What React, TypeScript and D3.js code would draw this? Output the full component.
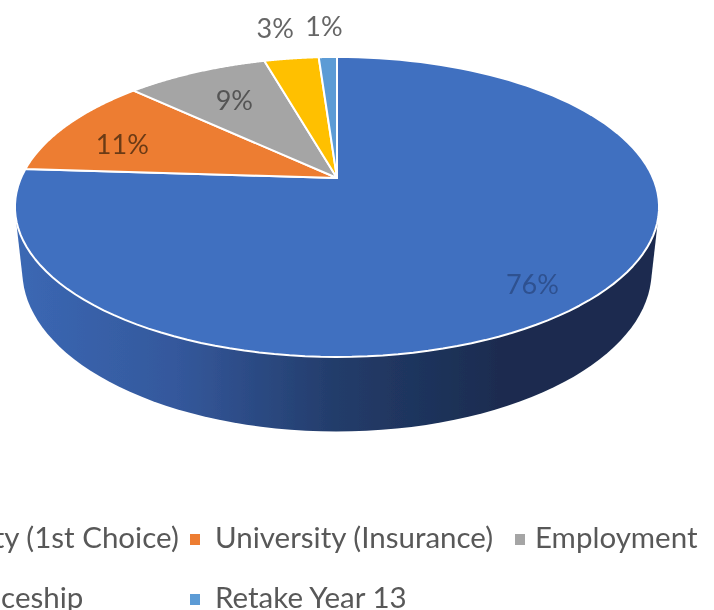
import React from 'react';
import * as d3 from 'd3';

// Chart data
const categories = [
  'University (1st Choice)',
  'University (Insurance)',
  'Employment',
  'Apprenticeship',
  'Retake Year 13',
];
const shares = [76, 11, 8.6, 3.3, 1.1];
const labels = ['76%', '11%', '9%', '3%', '1%'];
const colors = ['#4170c0', '#ed7d31', '#a5a5a5', '#ffc000', '#5b9bd5'];
const labelFills = ['#2e5190', '#6b3a17', '#555555', '#666666', '#666666'];
const wallStops = ['#3b68b4', '#34589c', '#233c6a', '#1a2c50', '#1a2c50'];

const width = 714;
const height = 610;

// Perspective projection of the unit circle onto the screen
const apex = { x: 337, y: 178 };
const scaleX = 316;
const scaleY = 144.4;
const tilt = 0.193;

const project = (angle: number, r = 1): [number, number] => {
  const u = Math.sin(angle) * r;
  const v = -Math.cos(angle) * r;
  const w = 1 - tilt * v;
  return [apex.x + (scaleX * u) / w, apex.y + (scaleY * v) / w];
};

// Lower rim of the wall, same shape pushed down and slightly narrowed
const projectBase = (angle: number): [number, number] => {
  const [x, y] = project(angle);
  return [apex.x + (x - apex.x) * 0.977, y + 62 + (y - apex.y) * 0.07];
};

const arcPoints = (start: number, end: number, fn: (a: number) => [number, number]) =>
  d3.range(0, 121).map(i => fn(start + ((end - start) * i) / 120));

const App = () => {
  const slices = d3.pie<number>().sort(null)(shares);
  const line = d3.line();

  const blue = slices[0];
  const wallHull = d3.polygonHull([
    ...arcPoints(blue.startAngle, blue.endAngle, project),
    ...arcPoints(blue.startAngle, blue.endAngle, projectBase),
  ]) as [number, number][];

  const sliceOutline = (s: d3.PieArcDatum<number>) =>
    line([[apex.x, apex.y], ...arcPoints(s.startAngle, s.endAngle, a => project(a))]) + 'Z';

  // label placement relative to the slice anchor
  const labelNudge = [[14, 18], [-9, 7], [7, 5], [-7, -6], [-2, -6]];

  // the left column runs off the page, as in the original crop
  const legendCols = [-112, 215, 535];
  const legendRows = [548, 608];
  const legendPos = [
    { x: legendCols[0], y: legendRows[0], gap: 25 },
    { x: legendCols[1], y: legendRows[0], gap: 25 },
    { x: legendCols[2], y: legendRows[0], gap: 20 },
    { x: legendCols[0], y: legendRows[1], gap: 25 },
    { x: legendCols[1], y: legendRows[1], gap: 25 },
  ];

  return (
    <svg
      width={width}
      height={height}
      viewBox={`0 0 ${width} ${height}`}
      style={{ position: 'absolute', top: 0, left: 0, display: 'block', background: '#fff' }}
      fontFamily="Lato, 'Open Sans', sans-serif"
    >
      <defs>
        <linearGradient id="wall" gradientUnits="userSpaceOnUse" x1="15" x2="659" y1="0" y2="0">
          {wallStops.map((c, i) => (
            <stop key={i} offset={i / (wallStops.length - 1)} stopColor={c} />
          ))}
        </linearGradient>
        <filter id="soft" x="-5%" y="-5%" width="110%" height="110%">
          <feGaussianBlur stdDeviation="0.5" />
        </filter>
      </defs>

      <g filter="url(#soft)">
        {/* side wall */}
        <path d={line(wallHull) + 'Z'} fill="url(#wall)" />

        {/* top face */}
        {slices.map((s, i) => (
          <path
            key={categories[i]}
            d={sliceOutline(s)}
            fill={colors[i]}
            stroke="#fff"
            strokeWidth={2}
            strokeLinejoin="round"
          />
        ))}

        {/* percentage labels */}
        {slices.map((s, i) => {
          const mid = (s.startAngle + s.endAngle) / 2;
          const outside = shares[i] < 5;
          const [x, y] = project(mid, outside ? 1.25 : 0.75);
          return (
            <text
              key={labels[i]}
              x={x + labelNudge[i][0]}
              y={y + labelNudge[i][1]}
              dy="0.35em"
              textAnchor="middle"
              fontSize={27}
              fill={labelFills[i]}
            >
              {labels[i]}
            </text>
          );
        })}

        {/* legend */}
        {categories.map((name, i) => {
          const p = legendPos[i];
          return (
            <g key={name}>
              <rect x={p.x - p.gap} y={p.y - 14} width={10} height={11} fill={colors[i]} />
              <text x={p.x} y={p.y} fontSize={29.5} fill="#595959">
                {name}
              </text>
            </g>
          );
        })}
      </g>
    </svg>
  );
};

export default App;
